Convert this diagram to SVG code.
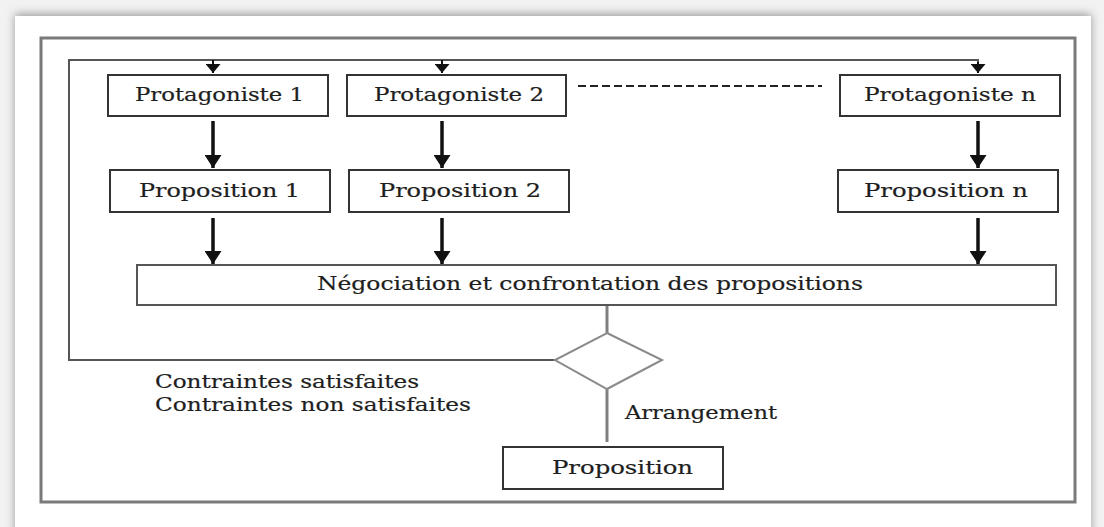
<svg xmlns="http://www.w3.org/2000/svg" width="1104" height="527" viewBox="0 0 1104 527">
  <defs>
    <filter id="pageShadow" x="-5%" y="-5%" width="110%" height="110%">
      <feGaussianBlur stdDeviation="5"/>
    </filter>
    <marker id="headSmall" viewBox="0 0 10 10" refX="10" refY="5" markerWidth="9" markerHeight="15" markerUnits="userSpaceOnUse" orient="auto" preserveAspectRatio="none">
      <path d="M0,0 L10,5 L0,10 z" fill="#111"/>
    </marker>
    <marker id="headBig" viewBox="0 0 10 10" refX="10" refY="5" markerWidth="13" markerHeight="17" markerUnits="userSpaceOnUse" orient="auto" preserveAspectRatio="none">
      <path d="M0,0 L10,5 L0,10 z" fill="#111"/>
    </marker>
    <style>
      .box { fill: #ffffff; stroke: #333333; stroke-width: 2; }
      .frame { fill: none; stroke: #7a7a7a; stroke-width: 3; }
      .loop { fill: none; stroke: #555555; stroke-width: 2; }
      .gray { fill: none; stroke: #808080; stroke-width: 3; }
      .diamond { fill: #ffffff; stroke: #8a8a8a; stroke-width: 2; }
      .arrow { stroke: #111111; stroke-width: 3.5; fill: none; marker-end: url(#headBig); }
      .tip { stroke: #111111; stroke-width: 2; fill: none; marker-end: url(#headSmall); }
      .dash { stroke: #222222; stroke-width: 2; stroke-dasharray: 8 4; fill: none; }
      .lbl { font-family: "DejaVu Serif", "Liberation Serif", serif; font-size: 18px; fill: #1e1e1e; stroke: #1e1e1e; stroke-width: 0.2; }
    </style>
  </defs>

  <!-- page sheet with soft drop shadow -->
  <rect x="0" y="0" width="1104" height="527" fill="#f2f2f2"/>
  <rect x="15" y="14" width="1076" height="520" fill="#9a9a9a" filter="url(#pageShadow)"/>
  <rect x="15" y="16" width="1076" height="515" fill="#ffffff"/>

  <!-- outer frame -->
  <rect class="frame" x="41" y="38" width="1034" height="464"/>

  <!-- connectors -->
  <g id="connectors">
    <!-- feedback loop: diamond back to the top of every protagonist -->
    <path class="loop" d="M555,360 H69 V60 H978 V64"/>
    <line class="tip" x1="213" y1="60" x2="213" y2="73"/>
    <line class="tip" x1="442" y1="60" x2="442" y2="73"/>
    <line class="tip" x1="978" y1="62" x2="978" y2="73"/>
    <!-- protagonist to proposition -->
    <line class="arrow" x1="213" y1="121" x2="213" y2="168"/>
    <line class="arrow" x1="442" y1="121" x2="442" y2="168"/>
    <line class="arrow" x1="978" y1="121" x2="978" y2="168"/>
    <!-- proposition to negotiation -->
    <line class="arrow" x1="213" y1="218" x2="213" y2="264"/>
    <line class="arrow" x1="442" y1="218" x2="442" y2="264"/>
    <line class="arrow" x1="978" y1="218" x2="978" y2="264"/>
    <!-- ellipsis between protagonists -->
    <line class="dash" x1="578" y1="86" x2="822" y2="86"/>
    <!-- negotiation to decision, decision to result -->
    <line class="gray" x1="607" y1="305" x2="607" y2="333"/>
    <line class="gray" x1="607" y1="389" x2="607" y2="442"/>
  </g>

  <g id="protagoniste1">
    <rect class="box" x="108" y="75" width="220" height="41"/>
    <text class="lbl" x="135" y="101" textLength="169" lengthAdjust="spacingAndGlyphs">Protagoniste 1</text>
  </g>
  <g id="protagoniste2">
    <rect class="box" x="347" y="75" width="219" height="41"/>
    <text class="lbl" x="374" y="101" textLength="170" lengthAdjust="spacingAndGlyphs">Protagoniste 2</text>
  </g>
  <g id="protagonisteN">
    <rect class="box" x="840" y="75" width="220" height="41"/>
    <text class="lbl" x="864" y="101" textLength="172" lengthAdjust="spacingAndGlyphs">Protagoniste n</text>
  </g>

  <g id="proposition1">
    <rect class="box" x="110" y="170" width="220" height="42"/>
    <text class="lbl" x="139" y="197" textLength="161" lengthAdjust="spacingAndGlyphs">Proposition 1</text>
  </g>
  <g id="proposition2">
    <rect class="box" x="349" y="170" width="220" height="42"/>
    <text class="lbl" x="379" y="197" textLength="162" lengthAdjust="spacingAndGlyphs">Proposition 2</text>
  </g>
  <g id="propositionN">
    <rect class="box" x="838" y="170" width="220" height="42"/>
    <text class="lbl" x="864" y="197" textLength="164" lengthAdjust="spacingAndGlyphs">Proposition n</text>
  </g>

  <g id="negociation">
    <rect class="box" x="137" y="265" width="919" height="40" style="stroke:#555"/>
    <text class="lbl" x="317" y="290" textLength="546" lengthAdjust="spacingAndGlyphs">Négociation et confrontation des propositions</text>
  </g>

  <g id="decision">
    <polygon class="diamond" points="607,333 662,360 607,389 555,360"/>
  </g>

  <g id="labels">
    <text class="lbl" x="155" y="388" textLength="264" lengthAdjust="spacingAndGlyphs">Contraintes satisfaites</text>
    <text class="lbl" x="155" y="411" textLength="316" lengthAdjust="spacingAndGlyphs">Contraintes non satisfaites</text>
    <text class="lbl" x="625" y="419" textLength="152" lengthAdjust="spacingAndGlyphs">Arrangement</text>
  </g>

  <g id="proposition">
    <rect class="box" x="503" y="447" width="220" height="42"/>
    <text class="lbl" x="552" y="474" textLength="141" lengthAdjust="spacingAndGlyphs">Proposition</text>
  </g>
</svg>
